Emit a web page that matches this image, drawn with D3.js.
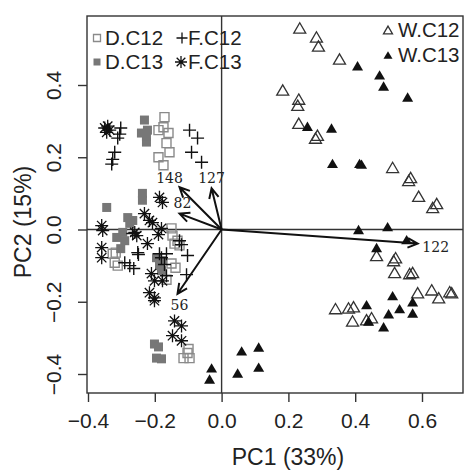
<!DOCTYPE html>
<meta charset="utf-8">
<style>
body { margin: 0; background: #fff; font-family: "Liberation Sans", Arial, sans-serif; }
.frame { fill: none; stroke: #333; stroke-width: 1.4px; }
.axis text { font-family: "Liberation Sans", Arial, sans-serif; font-size: 21px; fill: #222; }
.axis line { stroke: #333; stroke-width: 1.4px; }
.axis path { display: none; }
.ref { stroke: #333; stroke-width: 1.4px; }
.load { stroke: #111; stroke-width: 2px; fill: none; }
.loadlab { font-family: "DejaVu Serif", "Liberation Serif", serif; font-size: 14px; fill: #222; }
.legend text { font-size: 20.5px; fill: #222; }
.title { font-size: 23px; fill: #222; }
</style>
<body>
<script src="https://d3js.org/d3.v7.min.js"></script>
<script>
var width = 464, height = 471;
var frame = {left: 87, right: 463, top: 16, bottom: 393};

var xTicks = [-0.4, -0.2, 0.0, 0.2, 0.4, 0.6];
var yTicks = [-0.4, -0.2, 0.0, 0.2, 0.4];

// scores, [PC1, PC2]
var wC12 = [[0.234,0.558],[0.284,0.533],[0.290,0.508],[0.353,0.472],[0.183,0.386],[0.231,0.361],
  [0.228,0.344],[0.231,0.294],[0.287,0.261],[0.281,0.253],[0.512,0.172],[0.566,0.144],[0.560,0.136],
  [0.590,0.092],[0.644,0.072],[0.632,0.061],[0.464,-0.072],[0.521,-0.078],[0.515,-0.086],[0.518,-0.119],
  [0.563,-0.122],[0.572,-0.119],[0.587,-0.175],[0.629,-0.167],[0.650,-0.189],[0.683,-0.172],[0.689,-0.175],
  [0.341,-0.219],[0.380,-0.217],[0.395,-0.214],[0.392,-0.253],[0.434,-0.250],[0.449,-0.244]];
var wC13 = [[0.407,0.453],[0.473,0.428],[0.485,0.397],[0.557,0.367],[0.257,0.286],[0.329,0.281],
  [0.332,0.183],[0.413,0.183],[0.419,0.181],[0.410,0.000],[0.497,0.008],[0.554,-0.028],[0.464,-0.050],
  [0.512,-0.183],[0.572,-0.200],[0.533,-0.219],[0.572,-0.231],[0.500,-0.233],[0.485,-0.269],[0.434,-0.208],
  [0.440,-0.253],[0.060,-0.336],[0.111,-0.325],[0.048,-0.397],[0.111,-0.381],[-0.030,-0.383],[-0.036,-0.414]];
var dC12 = [[-0.171,0.311],[-0.174,0.283],[-0.189,0.275],[-0.159,0.267],[-0.165,0.239],[-0.156,0.214],
  [-0.189,0.200],[-0.174,0.178],[-0.150,0.003],[-0.147,-0.017],[-0.132,-0.031],[-0.141,-0.039],[-0.126,-0.044],
  [-0.317,-0.064],[-0.320,-0.092],[-0.311,-0.100],[-0.326,-0.067],[-0.150,-0.094],[-0.138,-0.106],[-0.165,-0.139],
  [-0.114,-0.356],[-0.096,-0.356],[-0.102,-0.342],[-0.099,-0.331]];
var dC13 = [[-0.231,0.303],[-0.240,0.267],[-0.222,0.275],[-0.225,0.242],[-0.225,0.258],[-0.237,0.100],
  [-0.237,0.081],[-0.344,0.061],[-0.281,0.033],[-0.266,0.025],[-0.275,0.017],[-0.314,-0.022],[-0.296,-0.008],
  [-0.290,-0.031],[-0.302,-0.053],[-0.195,-0.078],[-0.186,-0.100],[-0.177,-0.086],[-0.180,-0.114],
  [-0.201,-0.317],[-0.189,-0.325],[-0.195,-0.356],[-0.180,-0.358]];
var fC12 = [[-0.302,0.281],[-0.305,0.264],[-0.311,0.253],[-0.320,0.214],[-0.326,0.194],[-0.329,0.181],
  [-0.096,0.275],[-0.072,0.253],[-0.090,0.214],[-0.060,0.186],[-0.266,-0.011],[-0.251,-0.064],[-0.290,-0.092],
  [-0.275,-0.100],[-0.263,-0.108],[-0.249,-0.069],[-0.186,-0.067],[-0.165,-0.067],[-0.180,-0.078],
  [-0.171,-0.097],[-0.120,-0.042],[-0.102,-0.072],[-0.105,-0.125],[-0.165,-0.128],[-0.126,-0.031]];
var fC13 = [[-0.350,0.281],[-0.344,0.269],[-0.335,0.275],[-0.341,0.286],[-0.186,0.089],[-0.177,0.075],
  [-0.359,0.011],[-0.356,-0.003],[-0.231,0.044],[-0.216,0.025],[-0.207,0.019],[-0.180,0.003],[-0.254,-0.017],
  [-0.260,-0.008],[-0.189,-0.014],[-0.222,-0.039],[-0.359,-0.050],[-0.359,-0.078],[-0.210,-0.122],
  [-0.201,-0.142],[-0.177,-0.142],[-0.216,-0.175],[-0.201,-0.189],[-0.201,-0.197],[-0.141,-0.253],
  [-0.120,-0.267],[-0.147,-0.294],[-0.120,-0.308]];

// loadings
var loadNames = ["148", "127", "82", "56", "122"];
var loadX = [-0.126, -0.030, -0.126, -0.132, 0.587];
var loadY = [0.117, 0.114, 0.044, -0.178, -0.039];
var labelX = [-0.156, -0.030, -0.117, -0.126, 0.641];
var labelY = [0.142, 0.142, 0.072, -0.208, -0.050];

var svg = d3.select("body").append("svg")
    .attr("width", width)
    .attr("height", height);

var x = d3.scaleLinear().domain([-0.4, 0.6]).range([88, 422]);
var y = d3.scaleLinear().domain([-0.4, 0.4]).range([374, 85]);
var fmt = d3.format(".1f");

// axes
svg.append("g").attr("class", "axis")
    .attr("transform", "translate(0," + frame.bottom + ")")
    .call(d3.axisBottom(x).tickValues(xTicks).tickSize(9).tickPadding(11).tickFormat(fmt));

var yAxis = svg.append("g").attr("class", "axis")
    .attr("transform", "translate(" + frame.left + ",0)")
    .call(d3.axisLeft(y).tickValues(yTicks).tickSize(9).tickFormat(""));
yAxis.selectAll(".tick").append("text")
    .attr("transform", "translate(-26,0) rotate(-90)")
    .attr("text-anchor", "middle")
    .attr("fill", "#222")
    .text(fmt);

svg.append("rect").attr("class", "frame")
    .attr("x", frame.left).attr("y", frame.top)
    .attr("width", frame.right - frame.left).attr("height", frame.bottom - frame.top);

// zero lines
svg.append("line").attr("class", "ref")
    .attr("x1", x(0)).attr("x2", x(0)).attr("y1", frame.top).attr("y2", frame.bottom);
svg.append("line").attr("class", "ref")
    .attr("x1", frame.left).attr("x2", frame.right).attr("y1", y(0)).attr("y2", y(0));

// titles
svg.append("text").attr("class", "title")
    .attr("x", 288).attr("y", 465).attr("text-anchor", "middle").text("PC1 (33%)");
svg.append("text").attr("class", "title")
    .attr("transform", "translate(31,222) rotate(-90)")
    .attr("text-anchor", "middle").text("PC2 (15%)");

// marker shapes
function sq(s) { var h = s / 2; return "M" + -h + "," + -h + "H" + h + "V" + h + "H" + -h + "Z"; }
function tri(s) { var h = s / 2, t = s * 0.43; return "M0," + -t + "L" + h + "," + t + "H" + -h + "Z"; }
function plus(s) { var h = s / 2; return "M" + -h + ",0H" + h + "M0," + -h + "V" + h; }
function star(s) {
  var h = s / 2, d = h * 0.72;
  return plus(s) + "M" + -d + "," + -d + "L" + d + "," + d + "M" + -d + "," + d + "L" + d + "," + -d;
}

var groups = [
  {data: dC12, path: sq(9), fill: "none", stroke: "#8a8a8a", sw: 1.4},
  {data: dC13, path: sq(9), fill: "#777", stroke: "none", sw: 0},
  {data: fC12, path: plus(13), fill: "none", stroke: "#111", sw: 1.4},
  {data: fC13, path: star(13), fill: "none", stroke: "#111", sw: 1.3},
  {data: wC12, path: tri(12), fill: "none", stroke: "#333", sw: 1.3},
  {data: wC13, path: tri(11), fill: "#111", stroke: "none", sw: 0}
];

groups.forEach(function(g) {
  svg.append("g").selectAll("path")
      .data(g.data)
    .enter().append("path")
      .attr("transform", function(d) { return "translate(" + x(d[0]) + "," + y(d[1]) + ")"; })
      .attr("d", g.path)
      .attr("fill", g.fill)
      .attr("stroke", g.stroke)
      .attr("stroke-width", g.sw);
});

// loading arrows
var lg = svg.append("g");
loadNames.forEach(function(n, i) {
  var x0 = x(0), y0 = y(0), x1 = x(loadX[i]), y1 = y(loadY[i]);
  var a = Math.atan2(y1 - y0, x1 - x0), len = 11, sp = Math.PI / 7;
  lg.append("path").attr("class", "load")
      .attr("d", "M" + x0 + "," + y0 + "L" + x1 + "," + y1 +
        "M" + (x1 - len * Math.cos(a - sp)) + "," + (y1 - len * Math.sin(a - sp)) +
        "L" + x1 + "," + y1 +
        "L" + (x1 - len * Math.cos(a + sp)) + "," + (y1 - len * Math.sin(a + sp)));
  lg.append("text").attr("class", "loadlab")
      .attr("x", x(labelX[i])).attr("y", y(labelY[i]))
      .attr("dy", "0.35em")
      .attr("text-anchor", "middle")
      .text(n);
});

// legends
var leg = svg.append("g").attr("class", "legend");
var legItems = [
  {label: "D.C12", path: sq(7), fill: "none", stroke: "#8a8a8a", sx: 97, sy: 38, tx: 105, ty: 45},
  {label: "F.C12", path: plus(11), fill: "none", stroke: "#111", sx: 182, sy: 38, tx: 188, ty: 45},
  {label: "D.C13", path: sq(7), fill: "#777", stroke: "none", sx: 97, sy: 62, tx: 105, ty: 69},
  {label: "F.C13", path: star(12), fill: "none", stroke: "#111", sx: 181, sy: 62, tx: 188, ty: 69},
  {label: "W.C12", path: tri(9), fill: "none", stroke: "#333", sx: 388, sy: 30, tx: 398, ty: 37},
  {label: "W.C13", path: tri(9), fill: "#111", stroke: "none", sx: 388, sy: 55, tx: 398, ty: 62}
];
legItems.forEach(function(d) {
  leg.append("path")
      .attr("transform", "translate(" + d.sx + "," + d.sy + ")")
      .attr("d", d.path).attr("fill", d.fill).attr("stroke", d.stroke).attr("stroke-width", 1.3);
  leg.append("text").attr("x", d.tx).attr("y", d.ty).text(d.label);
});
</script>
</body>
